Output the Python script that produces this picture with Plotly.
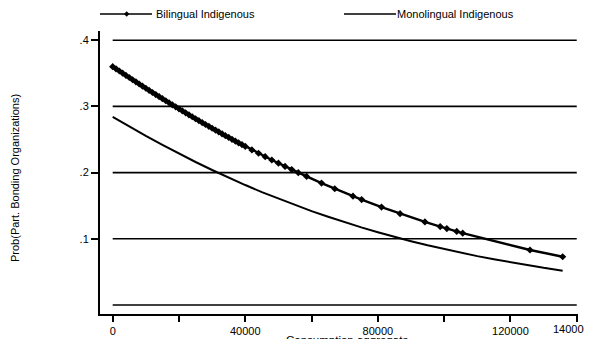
import plotly.graph_objects as go

# ---- data ----
bil_x = [0, 1000, 2000, 3000, 4000, 5000, 6000, 7000, 8000, 9000, 10000,
         11000, 12000, 13000, 14000, 15000, 16000, 17000, 18000, 19000, 20000,
         21000, 22000, 23000, 24000, 25000, 26000, 27000, 28000, 29000, 30000,
         31000, 32000, 33000, 34000, 35000, 36000, 37000, 38000, 39000, 40000,
         42000, 44000, 46000, 48000, 50000, 52000, 54000, 56000, 58500,
         63000, 67000, 72500, 75100, 81100, 86700, 94200, 98800, 100800,
         103800, 105600, 125900, 135750]
bil_y = [0.3600, 0.3568, 0.3535, 0.3502, 0.3468, 0.3436, 0.3403, 0.3371, 0.3338,
         0.3306, 0.3274, 0.3242, 0.3210, 0.3179, 0.3148, 0.3117, 0.3085, 0.3055,
         0.3024, 0.2994, 0.2963, 0.2933, 0.2903, 0.2873, 0.2843, 0.2814, 0.2785,
         0.2756, 0.2727, 0.2699, 0.2670, 0.2642, 0.2614, 0.2586, 0.2558, 0.2531,
         0.2503, 0.2476, 0.2449, 0.2423, 0.2396, 0.2343, 0.2292, 0.2241, 0.2191,
         0.2142, 0.2093, 0.2046, 0.1999, 0.1942, 0.1841, 0.1756, 0.1644, 0.1592,
         0.1479, 0.1380, 0.1255, 0.1184, 0.1154, 0.1111, 0.1085, 0.0831, 0.0729]

mono_x = [0, 5000, 10000, 15000, 20000, 25000, 30000, 35000, 40000, 45000,
          50000, 55000, 60000, 65000, 70000, 75000, 80000, 85000, 90000, 95000,
          100000, 105000, 110000, 115000, 120000, 125000, 130000, 135750]
mono_y = [0.2842, 0.2695, 0.2554, 0.2418, 0.2286, 0.2160, 0.2039, 0.1923, 0.1812,
          0.1706, 0.1606, 0.1510, 0.1418, 0.1332, 0.1250, 0.1172, 0.1099, 0.1029,
          0.0964, 0.0902, 0.0844, 0.0789, 0.0738, 0.0690, 0.0644, 0.0601, 0.0561,
          0.0519]

series_names = ["Bilingual Indigenous", "Monolingual Indigenous"]
y_tick_vals = [0.1, 0.2, 0.3, 0.4]
y_tick_text = [".1", ".2", ".3", ".4"]
x_tick_vals = [0, 20000, 40000, 60000, 80000, 100000, 120000, 140000]
x_tick_text = ["0", "", "40000", "", "80000", "", "120000", ""]
last_x_label = "140000"   # drawn nudged left so it stays inside the page, as in the source
grid_vals = [0, 0.1, 0.2, 0.3, 0.4]
x_title = "Consumption aggregate"
y_title = "Prob(Part. Bonding Organizations)"

FONT = "Liberation Sans, Arial, sans-serif"
OFF = 8  # page body margin: the figure is drawn 8px right and down
W, H = 592 - OFF, 339 - OFF   # keep the page from overflowing the window
# screen-space plot area: x 100..578, y 31..314
ML = 100 - OFF
MT = 31 - OFF
MR = W - (578 - OFF)
MB = H - (314 - OFF)
PW, PH = W - ML - MR, H - MT - MB


def px(xs):
    return (xs - OFF - ML) / PW


def py(ys):
    return (H - MB - (ys - OFF)) / PH


fig = go.Figure()
fig.add_trace(go.Scatter(x=mono_x, y=mono_y, mode="lines", name=series_names[1],
                         line=dict(color="black", width=2), showlegend=False))
fig.add_trace(go.Scatter(x=bil_x, y=bil_y, mode="lines+markers", name=series_names[0],
                         line=dict(color="black", width=2.4),
                         marker=dict(symbol="diamond", size=5.5, color="black"),
                         showlegend=False))

shapes = []
for g in grid_vals:
    shapes.append(dict(type="line", xref="x", yref="y", x0=0, x1=140000, y0=g, y1=g,
                       line=dict(color="black", width=1.6), layer="below"))

# manual legend
ly = py(14)
shapes.append(dict(type="line", xref="paper", yref="paper", x0=px(100), x1=px(152),
                   y0=ly, y1=ly, line=dict(color="black", width=1.5)))
cx, cy, d = 126.7, 14, 2.4
shapes.append(dict(type="path", xref="paper", yref="paper",
                   path=f"M {px(cx - d)} {py(cy)} L {px(cx)} {py(cy - d)} L {px(cx + d)} {py(cy)} L {px(cx)} {py(cy + d)} Z",
                   fillcolor="black", line=dict(color="black", width=0.5)))
shapes.append(dict(type="line", xref="paper", yref="paper", x0=px(344), x1=px(396),
                   y0=ly, y1=ly, line=dict(color="black", width=1.5)))

annotations = [
    dict(text=series_names[0], xref="paper", yref="paper", x=px(154), y=ly,
         xanchor="left", yanchor="middle", showarrow=False,
         font=dict(family=FONT, size=11, color="black")),
    dict(text=series_names[1], xref="paper", yref="paper", x=px(395), y=ly,
         xanchor="left", yanchor="middle", showarrow=False,
         font=dict(family=FONT, size=11, color="black")),
    dict(text=y_title, xref="paper", yref="paper", x=px(15), y=py(178),
         xanchor="center", yanchor="middle", textangle=-90, showarrow=False,
         font=dict(family=FONT, size=11, color="black")),
    dict(text=x_title, xref="paper", yref="paper", x=px(347), y=py(339.5),
         xanchor="center", yanchor="middle", showarrow=False,
         font=dict(family=FONT, size=11.5, color="black")),
    dict(text=last_x_label, xref="paper", yref="paper", x=px(571), y=py(329),
         xanchor="center", yanchor="middle", showarrow=False,
         font=dict(family=FONT, size=11, color="black")),
]

fig.update_layout(
    width=W, height=H,
    margin=dict(l=ML, r=MR, t=MT, b=MB, pad=0, autoexpand=False),
    paper_bgcolor="white", plot_bgcolor="white",
    showlegend=False,
    shapes=shapes, annotations=annotations,
    font=dict(family=FONT, size=11, color="black"),
)
fig.update_xaxes(range=[-3830, 140380], showgrid=False, zeroline=False,
                 automargin=False,
                 showline=True, linecolor="black", linewidth=2,
                 ticks="outside", ticklen=6, tickwidth=1.6, tickcolor="black",
                 tickvals=x_tick_vals, ticktext=x_tick_text,
                 tickfont=dict(family=FONT, size=11, color="black"))
fig.update_yaxes(range=[-0.0136, 0.4139], showgrid=False, zeroline=False,
                 automargin=False,
                 showline=True, linecolor="black", linewidth=2,
                 ticks="outside", ticklen=7, tickwidth=1.6, tickcolor="black",
                 tickvals=y_tick_vals, ticktext=y_tick_text,
                 tickfont=dict(family=FONT, size=11, color="black"))

fig.write_html("out.html")
